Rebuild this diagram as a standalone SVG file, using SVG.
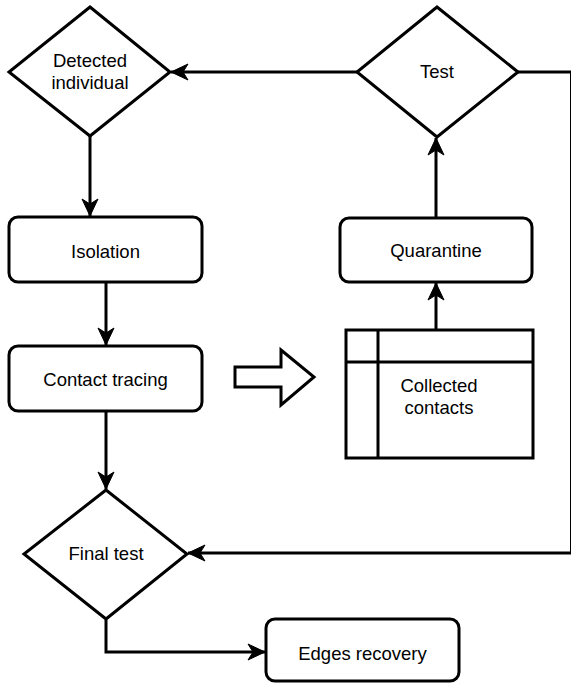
<svg xmlns="http://www.w3.org/2000/svg" width="571" height="683" viewBox="0 0 571 683">
<defs>
<style>
.s{fill:#fff;stroke:#000;stroke-width:3;}
.c{fill:none;stroke:#000;stroke-width:3;}
.t{font-family:"Liberation Sans",Arial,sans-serif;font-size:18.5px;fill:#000;text-anchor:middle;}
</style>
<marker id="ah" markerUnits="userSpaceOnUse" markerWidth="20" markerHeight="20" viewBox="-18 -10 20 20" refX="0" refY="0" orient="auto">
<path d="M0,0 L-17,-8 L-12,0 L-17,8 Z" fill="#000" stroke="#000" stroke-width="1"/>
</marker>
</defs>
<rect width="571" height="683" fill="#fff"/>
<g id="connectors">
<path class="c" d="M90,136 V216" marker-end="url(#ah)"/>
<path class="c" d="M106,282 V345" marker-end="url(#ah)"/>
<path class="c" d="M106,411 V489" marker-end="url(#ah)"/>
<path class="c" d="M436,330 V283" marker-end="url(#ah)"/>
<path class="c" d="M436,218 V138" marker-end="url(#ah)"/>
<path class="c" d="M357,72 H171" marker-end="url(#ah)"/>
<path class="c" d="M518,72 H571.5 V553 H188" marker-end="url(#ah)"/>
<path class="c" d="M106,620 V652 H265" marker-end="url(#ah)"/>
</g>
<g id="detected">
<polygon class="s" points="90,7 170,72 90,136 9,72"/>
<text class="t" x="90" y="67">Detected</text>
<text class="t" x="90" y="89">individual</text>
</g>
<g id="test">
<polygon class="s" points="437,7 518,72 437,137 357,72"/>
<text class="t" x="437" y="78">Test</text>
</g>
<g id="isolation">
<rect class="s" x="9" y="217" width="193" height="65" rx="9"/>
<text class="t" x="105.5" y="258">Isolation</text>
</g>
<g id="contact-tracing">
<rect class="s" x="9" y="346" width="193" height="65" rx="9"/>
<text class="t" x="105.5" y="386">Contact tracing</text>
</g>
<g id="quarantine">
<rect class="s" x="340" y="218" width="192" height="64" rx="9"/>
<text class="t" x="436" y="257">Quarantine</text>
</g>
<g id="collected-contacts">
<rect class="s" x="346" y="330" width="187" height="128"/>
<path class="c" d="M346,362 H533 M378,330 V458"/>
<text class="t" x="439" y="392">Collected</text>
<text class="t" x="439" y="414">contacts</text>
</g>
<g id="block-arrow">
<polygon class="s" points="235,367 281,367 281,350 314,377 281,405 281,387 235,387"/>
</g>
<g id="final-test">
<polygon class="s" points="106,490 187,554 106,619 24,554"/>
<text class="t" x="106" y="560">Final test</text>
</g>
<g id="edges-recovery">
<rect class="s" x="266" y="619" width="193" height="62" rx="9"/>
<text class="t" x="362.5" y="660">Edges recovery</text>
</g>
</svg>
